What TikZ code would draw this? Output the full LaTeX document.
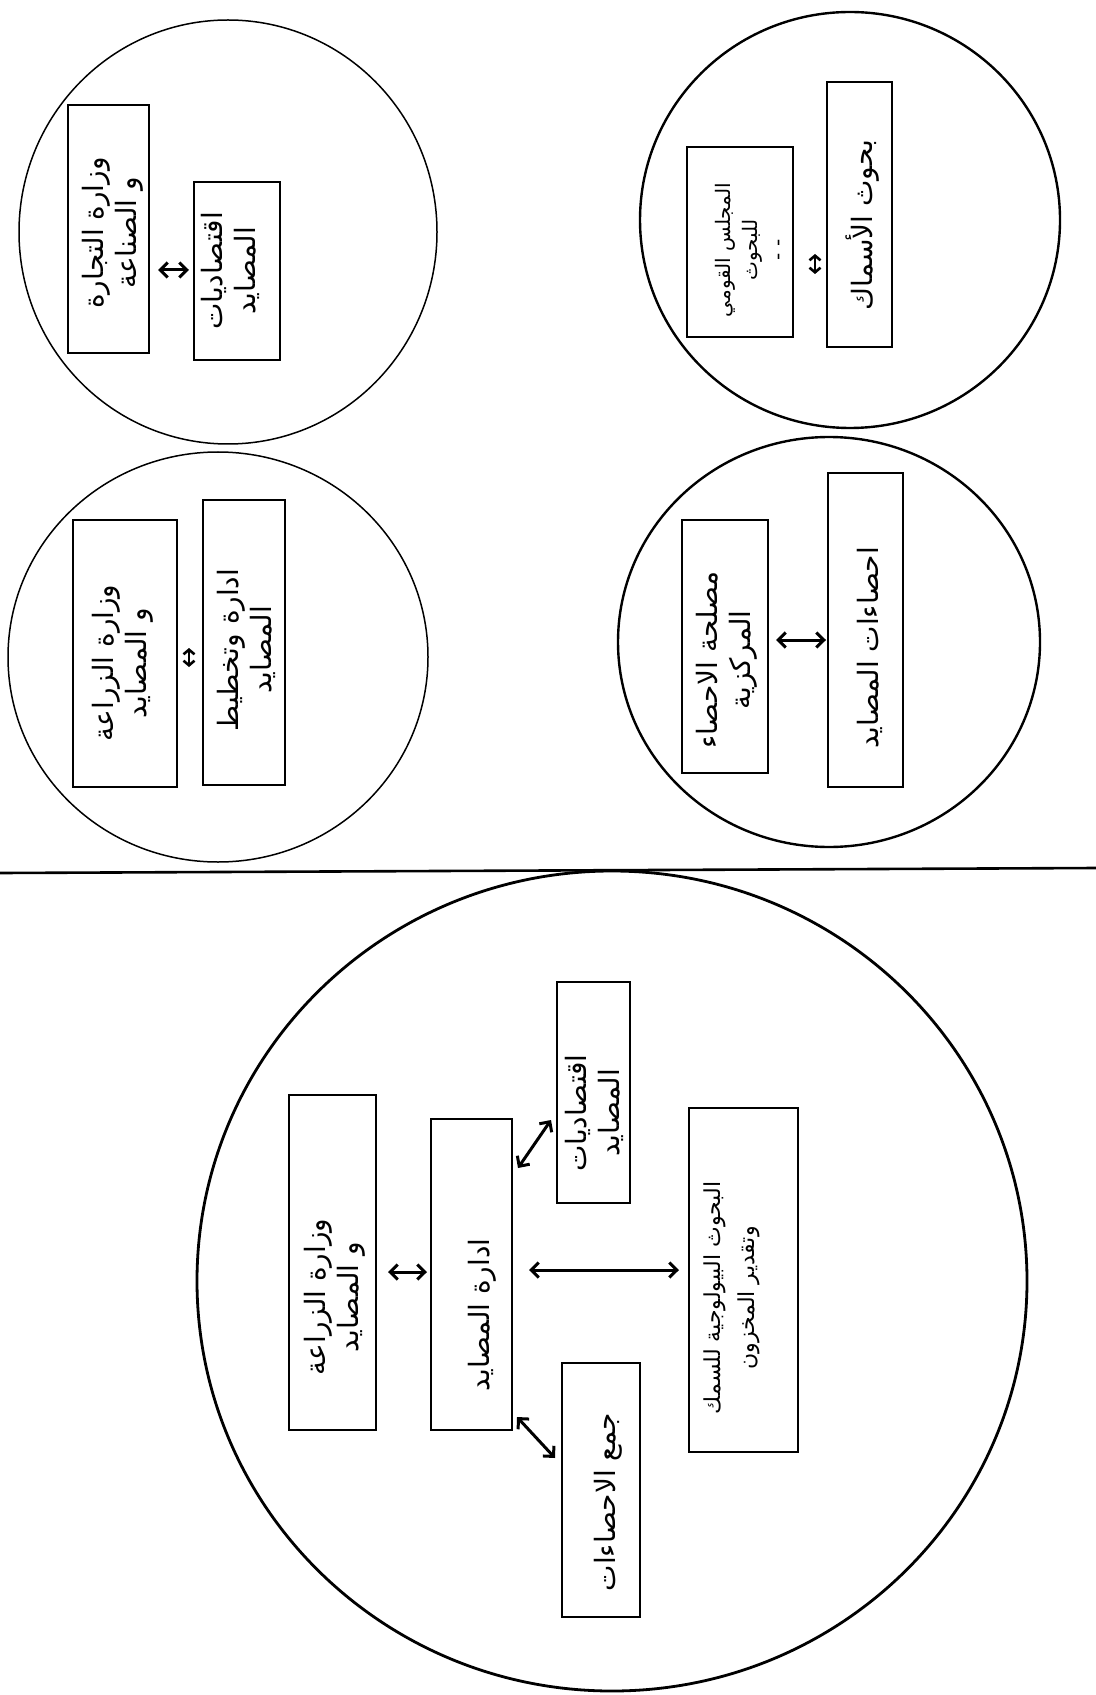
\documentclass[tikz,border=0pt]{standalone}
\usepackage{fontspec}
\usetikzlibrary{arrows.meta,shapes.geometric,fit}
\TeXXeTstate=1
\newfontfamily\arabicfont[Script=Arabic]{DejaVu Sans}
\newcommand\artext[1]{{\arabicfont\beginR #1\endR}}

\begin{document}
\begin{tikzpicture}[x=0.5pt,y=-0.5pt,
  ring/.style={draw, ellipse, inner sep=0pt, line width=1.2pt},
  faint/.style={line width=0.75pt},
  box/.style={draw, rectangle, inner sep=0pt, line width=1pt},
  lbl/.style={rotate=90, align=center, inner sep=0pt,
              font=\fontsize{14}{16.5}\selectfont},
  small/.style={font=\fontsize{10}{13.5}\selectfont},
  mid/.style={font=\fontsize{11}{17}\selectfont},
  link/.style={<->, line width=1.5pt,
               >={Straight Barb[length=3.8pt,width=7.5pt]}},
  tiny/.style={<->, line width=1.3pt,
               >={Straight Barb[length=2.3pt,width=5.5pt]}},
]
\useasboundingbox (0,0) rectangle (1096,1695);
\fill[white] (0,0) rectangle (1096,1695);

% ---------- divider between the four small groups and the large one
\coordinate (dL) at (0,873);
\coordinate (dR) at (1096,868);
\draw[line width=1.3pt] (dL) -- (dR);

% ---------- circles
\node[ring, faint, minimum width=209pt, minimum height=212pt] (C1) at (228,232) {};
\node[ring, minimum width=210pt, minimum height=208pt] (C2) at (850,220) {};
\node[ring, faint, minimum width=210pt, minimum height=205pt] (C3) at (218,657) {};
\node[ring, minimum width=211pt, minimum height=205pt] (C4) at (829,642) {};
\node[ring, line width=1.4pt, minimum width=415pt, minimum height=410pt] (C5) at (612,1281) {};

% ---------- boxes
\node[box, fit={(68,105) (149,353)}]   (A1) {};
\node[box, fit={(194,182) (280,360)}]  (A2) {};
\node[box, fit={(687,147) (793,337)}]  (B1) {};
\node[box, fit={(827,82) (892,347)}]   (B2) {};
\node[box, fit={(73,520) (177,787)}]   (D1) {};
\node[box, fit={(203,500) (285,785)}]  (D2) {};
\node[box, fit={(682,520) (768,773)}]  (E1) {};
\node[box, fit={(828,473) (903,787)}]  (E2) {};
\node[box, fit={(289,1095) (376,1430)}] (F1) {};
\node[box, fit={(431,1119) (512,1430)}] (F2) {};
\node[box, fit={(557,982) (630,1203)}]  (F3) {};
\node[box, fit={(689,1108) (798,1452)}] (F4) {};
\node[box, fit={(562,1363) (640,1617)}] (F5) {};

% ---------- labels
\node[lbl] (A1t) at (113,233) {\artext{وزارة التجارة}\\\artext{و الصناعة}};
\node[lbl] (A2t) at (230,271) {\artext{اقتصاديات}\\\artext{المصايد}};
\node[lbl, small] (B1t) at (750,250) {\artext{المجلس القومي}\\\artext{للبحوث}\\\artext{- -}};
\node[lbl] (B2t) at (863,225) {\artext{بحوث الأسماك}};
\node[lbl] (D1t) at (123,663) {\artext{وزارة الزراعة}\\\artext{و المصايد}};
\node[lbl] (D2t) at (246,650) {\artext{ادارة وتخطيط}\\\artext{المصايد}};
\node[lbl] (E1t) at (727,660) {\artext{مصلحة الاحصاء}\\\artext{المركزية}};
\node[lbl] (E2t) at (870,648) {\artext{احصاءات المصايد}};
\node[lbl] (F1t) at (335,1297) {\artext{وزارة الزراعة}\\\artext{و المصايد}};
\node[lbl] (F2t) at (482,1315) {\artext{ادارة المصايد}};
\node[lbl] (F3t) at (594,1113) {\artext{اقتصاديات}\\\artext{المصايد}};
\node[lbl, mid] (F4t) at (732,1298) {\artext{البحوث البيولوجية للسمك}\\\artext{وتقدير المخزون}};
\node[lbl] (F5t) at (608,1502) {\artext{جمع الاحصاءات}};

% ---------- arrow levels and free ends
\coordinate (yA) at (0,270);
\coordinate (yE) at (0,640);
\coordinate (yF12) at (0,1272);
\coordinate (yF24) at (0,1270);
\coordinate (yF23s) at (0,1168);
\coordinate (yF23e) at (0,1120);
\coordinate (yF25s) at (0,1417);
\coordinate (yF25e) at (0,1458);
\coordinate (bTop) at (815,254);
\coordinate (bBot) at (815,274);
\coordinate (dTop) at (189,648);
\coordinate (dBot) at (189,667);

% ---------- arrows
\draw[link, shorten <=4pt, shorten >=2pt] (A1.east |- yA) -- (A2.west |- yA);
\draw[tiny] (bTop) -- (bBot);
\draw[tiny] (dTop) -- (dBot);
\draw[link, shorten <=3.5pt, shorten >=0.5pt] (E1.east |- yE) -- (E2.west |- yE);
\draw[link, shorten <=5.5pt, shorten >=1.5pt] (F1.east |- yF12) -- (F2.west |- yF12);
\draw[link, shorten <=8pt, shorten >=4.5pt] (F2.east |- yF24) -- (F4.west |- yF24);
\draw[link] ([xshift=2.5pt]F2.east |- yF23s) -- ([xshift=-2.5pt]F3.west |- yF23e);
\draw[link] ([xshift=2pt]F2.east |- yF25s) -- ([xshift=-3pt]F5.west |- yF25e);
\end{tikzpicture}
\end{document}
